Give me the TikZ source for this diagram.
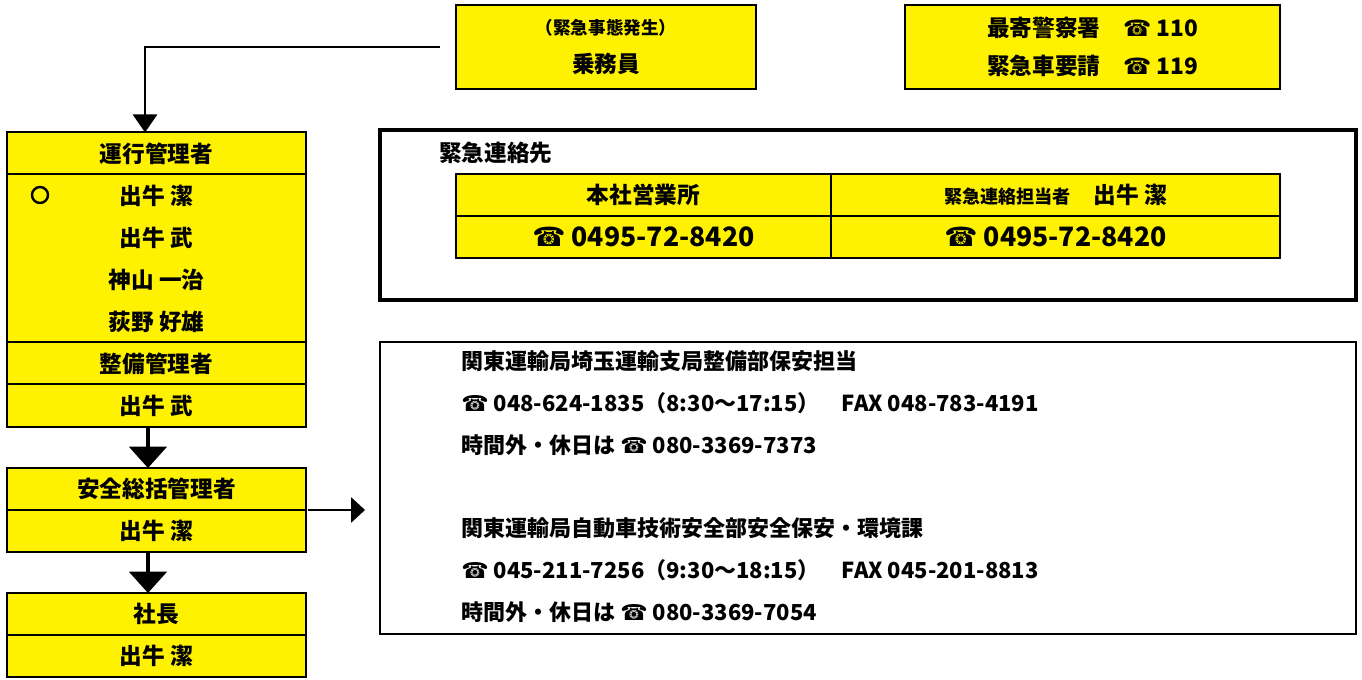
\documentclass[tikz,border=0pt]{standalone}
\usepackage{fontspec}
\setmainfont{Noto Sans CJK JP}
\newfontfamily\telfont{DejaVu Sans}
\newcommand\tel{{\telfont\mdseries ☎}}
\usetikzlibrary{positioning,arrows.meta}

\tikzset{
  cell/.style={draw, line width=1.5pt, fill=yellow, minimum width=224.25pt,
    minimum height=31.5pt, inner sep=0pt, outer sep=0pt},
  row/.style={cell, draw=none},
  box/.style={draw, line width=1.5pt, fill=yellow, minimum height=63pt,
    align=center, font=\bfseries\fontsize{17}{28}\selectfont},
  tcell/.style={cell, line width=1.2pt},
  telbig/.style={font=\bfseries\fontsize{20}{24}\selectfont},
  lines/.style={anchor=west, align=left, font=\bfseries\fontsize{16.5}{31.5}\selectfont},
  downarrow/.style={line width=3pt, -{Triangle[width=28pt,length=16pt]}},
  toparrow/.style={line width=2pt, -{Triangle[width=18pt,length=13.5pt]}},
  sidearrow/.style={line width=1.5pt, -{Triangle[width=19pt,length=10.5pt]}}
}

\begin{document}
\begin{tikzpicture}[x=0.75pt, y=-0.75pt, font=\bfseries\fontsize{17}{20}\selectfont]
  \useasboundingbox (0,0) rectangle (1362,680);

  % top boxes
  \node[box, minimum width=225pt] (crew) at (606,47)
    {{\fontsize{13.2}{28}\selectfont （緊急事態発生）}\\乗務員};
  \node[box, minimum width=281.25pt] (police) at (1092.5,47)
    {最寄警察署　\tel\ 110\\緊急車要請　\tel\ 119};

  % left column
  \node[cell] (unkou) at (156.5,153.5) {運行管理者};
  \node[row, below=0pt of unkou] (name1) {出牛 潔};
  \node[row, below=0pt of name1] (name2) {出牛 武};
  \node[row, below=0pt of name2] (name3) {神山 一治};
  \node[row, below=0pt of name3] (name4) {荻野 好雄};
  \draw[line width=1.5pt] (name1.north west) rectangle (name4.south east);
  \node[circle, draw, line width=1.8pt, minimum size=12pt, inner sep=0pt] (maru) at (40,195) {};
  \node[cell, below=0pt of name4] (seibi) {整備管理者};
  \node[cell, below=0pt of seibi] (seibiname) {出牛 武};

  \node[cell] (anzen) at (156.5,489) {安全総括管理者};
  \node[cell, below=0pt of anzen] (anzenname) {出牛 潔};

  \node[cell] (shacho) at (156.5,614) {社長};
  \node[cell, below=0pt of shacho] (shachoname) {出牛 潔};

  % arrows
  \coordinate (start) at ([xshift=-11.25pt]crew.west);
  \draw[toparrow] (start) -| ([xshift=-8.6pt]unkou.north);
  \draw[downarrow] ([xshift=-6.4pt]seibiname.south) -- ([xshift=-6.4pt]anzen.north);
  \draw[downarrow] ([xshift=-6.4pt]anzenname.south) -- ([xshift=-6.4pt]shacho.north);
  \coordinate (contact) at (365,510);
  \draw[sidearrow] ([xshift=1.5pt]anzen.south east) -- (contact);

  % emergency contacts
  \node[draw, line width=2.5pt, minimum width=732pt, minimum height=127.5pt] (kinkyu) at (868,215) {};
  \node[anchor=west, inner sep=0pt] (kinkyutitle) at (439,153) {緊急連絡先};
  \node[tcell, minimum width=281.25pt] (honsha) at (643.5,195) {本社営業所};
  \node[tcell, minimum width=336.75pt, right=0pt of honsha] (tanto)
    {{\fontsize{13.6}{16}\selectfont 緊急連絡担当者}　出牛 潔};
  \node[tcell, minimum width=281.25pt, below=0pt of honsha, telbig] (honshatel) {\tel\ 0495-72-8420};
  \node[tcell, minimum width=336.75pt, below=0pt of tanto, telbig] (tantotel) {\tel\ 0495-72-8420};

  % transport bureau
  \node[draw, line width=1.1pt, minimum width=732pt, minimum height=219pt] (kanto) at (868,488) {};
  \node[lines, inner sep=0pt] (saitama) at (461,403)
    {関東運輸局埼玉運輸支局整備部保安担当\\
     \tel\ 048-624-1835（8:30～17:15）　FAX 048-783-4191\\
     時間外・休日は \tel\ 080-3369-7373};
  \node[lines, inner sep=0pt] (honkyoku) at (461,570)
    {関東運輸局自動車技術安全部安全保安・環境課\\
     \tel\ 045-211-7256（9:30～18:15）　FAX 045-201-8813\\
     時間外・休日は \tel\ 080-3369-7054};
\end{tikzpicture}
\end{document}
